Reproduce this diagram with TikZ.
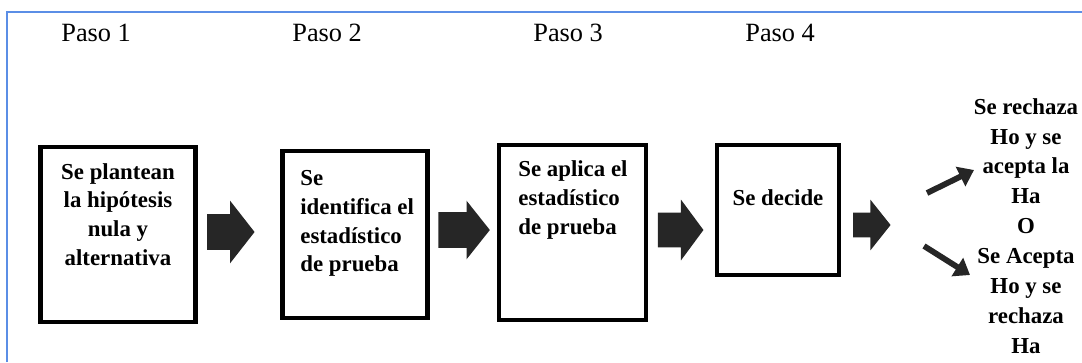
\documentclass[tikz,border=0pt]{standalone}
\usepackage{fontspec}
\setmainfont{Liberation Serif}
\usetikzlibrary{arrows.meta,positioning,shapes.arrows}
\definecolor{marco}{HTML}{5B8EE6}
\definecolor{oscuro}{HTML}{262626}
\tikzset{every picture/.style={
  >={Triangle[length=0.3cm,width=0.42cm]}   % Solid arrow heads.
  }
}

\begin{document}
\begin{tikzpicture}[
        x=0.02cm, y=-0.02cm,
        paso/.style={
          anchor=base west,
          inner sep=0pt,
          font=\fontsize{15}{18}\selectfont
        },
        caja/.style={
          draw,
          line width=2.3pt,
          outer sep=0pt,
          inner sep=0pt
        },
        texto/.style={
          inner sep=0pt,
          font=\bfseries\fontsize{13}{16.3}\selectfont
        },
        flecha/.style={
          single arrow,
          fill=oscuro,
          anchor=tail,
          inner xsep=0pt,
          single arrow head indent=0pt
        },
        chica/.style={->, draw=oscuro, line width=3.3pt}]

        \useasboundingbox (0,0) rectangle (1082,362);

        % Blue frame.
        \draw[marco, line width=0.9pt] (7,362) -- (7,12) -- (1082,12);

        % Step titles.
        \node[paso] (p1) at (61,41)  {Paso 1};
        \node[paso] (p2) at (292,41) {Paso 2};
        \node[paso] (p3) at (533,41) {Paso 3};
        \node[paso] (p4) at (745,41) {Paso 4};

        % Draw the boxes.
        \node[caja, minimum width=3.10cm, minimum height=3.50cm] (b1) at (118,234.5) {};
        \node[caja, minimum width=2.90cm, minimum height=3.33cm] (b2) at (355,234.7) {};
        \node[caja, minimum width=2.94cm, minimum height=3.49cm] (b3) at (572.5,232.5) {};
        \node[caja, minimum width=2.45cm, minimum height=2.59cm] (b4) at (778,210) {};

        % Box texts.
        \node[texto, align=center, below=0.32cm of b1.north] (t1)
          {Se plantean\\la hipótesis\\nula y\\alternativa};
        \node[texto, align=left, below right=0.38cm and 0.35cm of b2.north west] (t2)
          {Se\\identifica el\\estadístico\\de prueba};
        \node[texto, align=left, below right=0.31cm and 0.38cm of b3.north west] (t3)
          {Se aplica el\\estadístico\\de prueba};
        \node[texto] (t4) at ([yshift=0.25cm] b4.center) {Se decide};

        % Fat arrows between the boxes.
        \node[flecha, minimum height=0.95cm, inner ysep=0.35cm,
          single arrow head extend=0.27cm, single arrow tip angle=104] (f1) at (206.7,232) {};
        \node[flecha, minimum height=1.03cm, inner ysep=0.35cm,
          single arrow head extend=0.23cm, single arrow tip angle=103] (f2) at (438,230) {};
        \node[flecha, minimum height=0.91cm, inner ysep=0.34cm,
          single arrow head extend=0.26cm, single arrow tip angle=107] (f3) at (657.6,230) {};
        \node[flecha, minimum height=0.75cm, inner ysep=0.24cm,
          single arrow head extend=0.26cm, single arrow tip angle=103] (f4) at (852.7,225) {};

        % Outcomes.
        \node[texto, font=\bfseries\fontsize{13}{17}\selectfont, align=center, anchor=north]
          (res) at (1026,98)
          {Se rechaza\\Ho y se\\acepta la\\Ha\\O\\Se Acepta\\Ho y se\\rechaza\\Ha};

        \coordinate (s1) at (927,193);
        \coordinate (e1) at (974,170);
        \coordinate (s2) at (924,246);
        \coordinate (e2) at (970,275);
        \draw[chica] (s1) -- (e1);
        \draw[chica] (s2) -- (e2);
      \end{tikzpicture}
\end{document}
